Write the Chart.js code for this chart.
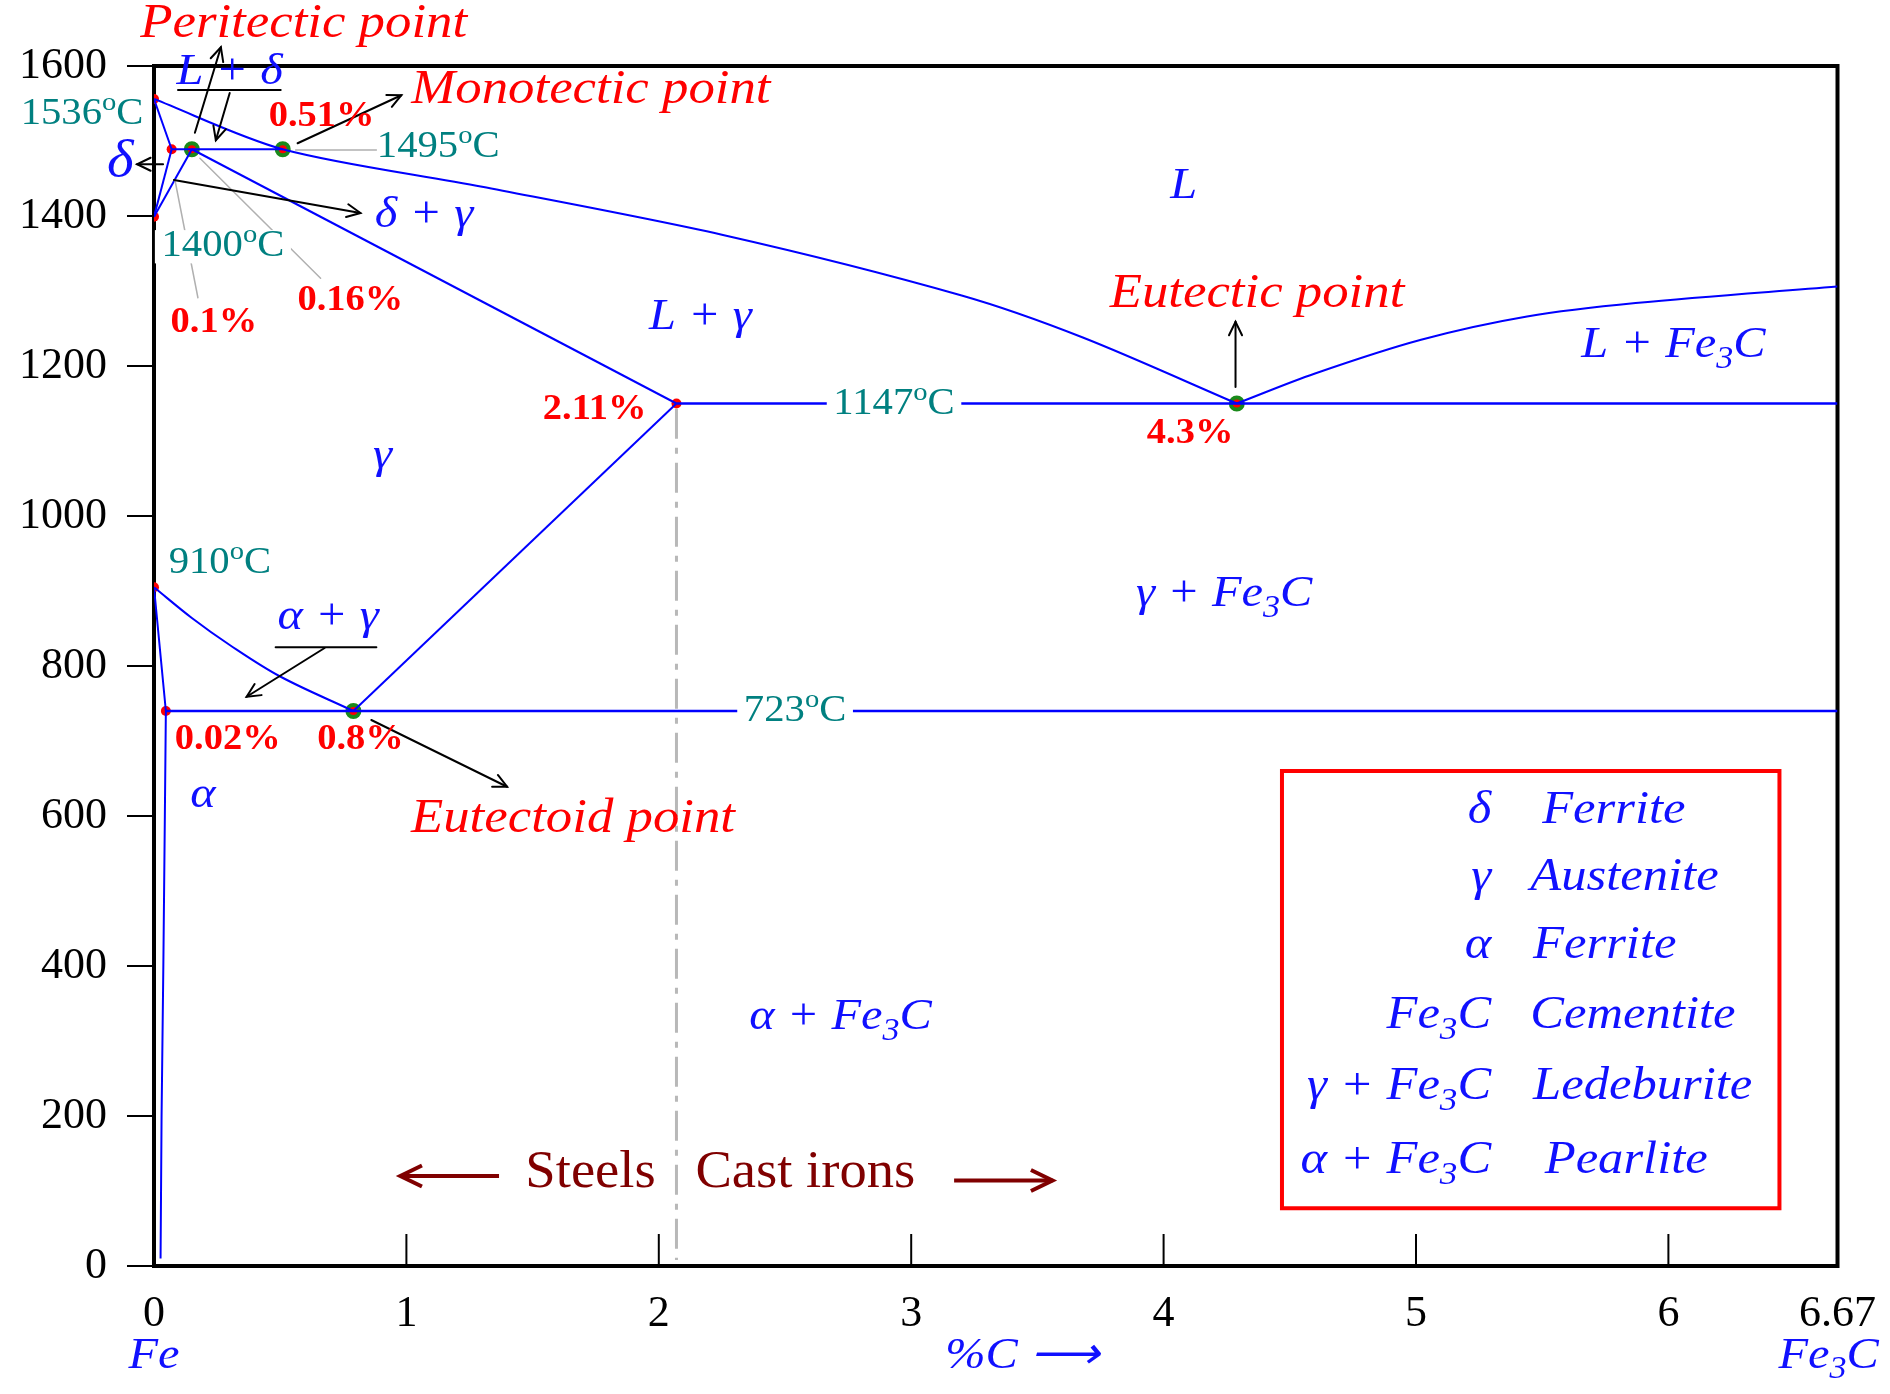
<!DOCTYPE html>
<html>
<head>
<meta charset="UTF-8">
<title>Iron-carbon phase diagram</title>
<script src="https://cdn.jsdelivr.net/npm/chart.js@4.4.0/dist/chart.umd.min.js"></script>
<style>
  body { margin: 0; background: #fff; }
  canvas { display: block; }
</style>
</head>
<body>
<canvas id="phaseChart" width="1890" height="1394"></canvas>
<script>
// x = carbon content in %C, y = temperature in degrees C
const xTicks = [0, 1, 2, 3, 4, 5, 6, 6.67];

const liquidusX = [0, 0.51, 1.3, 2.25, 3.2, 3.68, 4.29];
const liquidusT = [1556, 1489, 1439, 1375, 1294, 1238, 1150];
const cementiteLiqX = [4.29, 4.6, 5.02, 5.44, 5.87, 6.67];
const cementiteLiqT = [1150, 1190, 1235, 1266, 1284, 1306];
const deltaSolidusX = [0, 0.07];
const deltaSolidusT = [1556, 1489];
const deltaSolvusX = [0.07, 0];
const deltaSolvusT = [1489, 1399];
const gammaDeltaX = [0, 0.15];
const gammaDeltaT = [1399, 1489];
const peritecticX = [0.07, 0.51];
const peritecticT = [1489, 1489];
const gammaSolidusX = [0.15, 2.07];
const gammaSolidusT = [1489, 1150];
const eutecticX = [2.07, 6.67];
const eutecticT = [1150, 1150];
const acmX = [2.07, 0.79];
const acmT = [1150, 740];
const a3X = [0, 0.15, 0.3, 0.5, 0.79];
const a3T = [905, 864, 828, 786, 740];
const alphaSolvusX = [0, 0.047, 0.043, 0.037, 0.03, 0.026];
const alphaSolvusT = [905, 740, 600, 400, 200, 10];
const eutectoidX = [0.047, 6.67];
const eutectoidT = [740, 740];
const steelLimitX = [2.07, 2.07];
const steelLimitT = [1143, 8];

const smallDotX = [0, 0.07, 0, 0, 0.047, 2.07];
const smallDotT = [1556, 1489, 1399, 905, 740, 1150];
const keyPointX = [0.15, 0.51, 4.29, 0.79];
const keyPointT = [1489, 1489, 1150, 740];

// text annotations: [text, x, T]   (_x = subscript, ^x = superscript)
const pointNames = [
  ['Peritectic point', 0.593, 1656],
  ['Monotectic point', 1.731, 1568],
  ['Eutectic point', 4.37, 1295],
  ['Eutectoid point', 1.66, 595]
];
const percentLabels = [
  ['0.51%', 0.664, 1532], ['0.1%', 0.237, 1257], ['0.16%', 0.778, 1287],
  ['2.11%', 1.746, 1141], ['4.3%', 4.105, 1109], ['0.02%', 0.292, 701], ['0.8%', 0.818, 701]
];
const tempLabels = [
  ['1536^oC', -0.285, 1535, false], ['1495^oC', 1.126, 1492, false],
  ['1400^oC', 0.273, 1359, true], ['1147^oC', 2.932, 1149, true],
  ['910^oC', 0.261, 937, false], ['723^oC', 2.54, 740, true]
];
const phaseLabels = [
  ['L + δ', 0.30, 1592], ['δ + γ', 1.07, 1401], ['L', 4.08, 1439],
  ['L + γ', 2.165, 1265], ['L + Fe_3C', 6.02, 1227], ['γ', 0.905, 1080],
  ['α + γ', 0.69, 865], ['γ + Fe_3C', 4.24, 895], ['α', 0.194, 627], ['α + Fe_3C', 2.72, 331]
];
const legendSymbols = ['δ', 'γ', 'α', 'Fe_3C', 'γ + Fe_3C', 'α + Fe_3C'];
const legendNames = ['Ferrite', 'Austenite', 'Ferrite', 'Cementite', 'Ledeburite', 'Pearlite'];
const legendNameX = [5.5, 5.453, 5.464, 5.453, 5.464, 5.51];
const legendRowT = [607, 517, 427, 333, 239, 140];

const arrows = [
  [0.162, 1511, 0.265, 1625], [0.300, 1564, 0.245, 1501], [0.036, 1469, -0.067, 1469],
  [0.079, 1448, 0.818, 1404], [0.569, 1497, 0.98, 1561], [0.861, 728, 1.399, 639],
  [0.676, 824, 0.367, 759], [4.285, 1172, 4.285, 1259]
];
const underlines = [[0.095, 0.502, 1568], [0.482, 0.881, 825]];
const leaders = [[0.561, 1488, 0.881, 1488], [0.182, 1477, 0.66, 1317], [0.083, 1448, 0.174, 1291]];

const SERIF = "'Liberation Serif', 'Times New Roman', serif";
const BLUE = '#1010ff';

function pts(xs, ts) { return xs.map((x, i) => ({ x: x, y: ts[i] })); }

function line(xs, ts, opts) {
  opts = opts || {};
  return {
    data: pts(xs, ts), showLine: true, borderColor: opts.color || '#0000ff',
    borderWidth: opts.width || 2, pointRadius: 0, borderDash: opts.dash || [],
    tension: opts.tension || 0, fill: false
  };
}

function drawRich(ctx, str, x, y, opt) {
  const size = opt.size, style = opt.style || '';
  const parts = [];
  for (let i = 0; i < str.length; i++) {
    const c = str[i];
    if ((c === '_' || c === '^') && i + 1 < str.length) { parts.push({ t: str[i + 1], m: c }); i++; }
    else if (parts.length && !parts[parts.length - 1].m) parts[parts.length - 1].t += c;
    else parts.push({ t: c, m: '' });
  }
  const fontFor = m => style + ' ' + (m ? Math.round(size * 0.7) : size) + 'px ' + SERIF;
  let w = 0;
  parts.forEach(p => { ctx.font = fontFor(p.m); p.w = ctx.measureText(p.t).width; w += p.w; });
  let x0 = opt.align === 'left' ? 0 : opt.align === 'right' ? -w : -w / 2;
  ctx.save();
  ctx.translate(x, y);
  ctx.scale(opt.stretch || 1.1, 1);
  if (opt.bg) { ctx.fillStyle = opt.bg; ctx.fillRect(x0 - 6, -size * 0.45, w + 12, size * 0.9); }
  ctx.fillStyle = opt.color;
  ctx.textBaseline = 'middle';
  ctx.textAlign = 'left';
  parts.forEach(p => {
    ctx.font = fontFor(p.m);
    const dy = p.m === '_' ? size * 0.32 : p.m === '^' ? -size * 0.3 : 0;
    ctx.fillText(p.t, x0, dy);
    x0 += p.w;
  });
  ctx.restore();
}

function arrow(ctx, x1, y1, x2, y2, color, width, head) {
  ctx.strokeStyle = color;
  ctx.lineWidth = width;
  ctx.beginPath(); ctx.moveTo(x1, y1); ctx.lineTo(x2, y2); ctx.stroke();
  if (head) {
    const a = Math.atan2(y2 - y1, x2 - x1);
    ctx.beginPath();
    ctx.moveTo(x2 - head * Math.cos(a - 0.45), y2 - head * Math.sin(a - 0.45));
    ctx.lineTo(x2, y2);
    ctx.lineTo(x2 - head * Math.cos(a + 0.45), y2 - head * Math.sin(a + 0.45));
    ctx.stroke();
  }
}

const decorations = {
  id: 'decorations',
  beforeDatasetsDraw(chart) {
    const ctx = chart.ctx, a = chart.chartArea, xs = chart.scales.x;
    ctx.save();
    // frame + inward x ticks
    ctx.strokeStyle = '#000';
    ctx.lineWidth = 4;
    ctx.strokeRect(a.left, a.top, a.right - a.left, a.bottom - a.top);
    ctx.lineWidth = 2;
    xTicks.slice(1, 7).forEach(v => {
      const px = xs.getPixelForValue(v);
      ctx.beginPath(); ctx.moveTo(px, a.bottom); ctx.lineTo(px, a.bottom - 32); ctx.stroke();
    });
    ctx.restore();
  },
  afterDatasetsDraw(chart) {
    const ctx = chart.ctx, X = v => chart.scales.x.getPixelForValue(v), Y = v => chart.scales.y.getPixelForValue(v);
    ctx.save();
    ctx.lineCap = 'round';
    leaders.forEach(l => arrow(ctx, X(l[0]), Y(l[1]), X(l[2]), Y(l[3]), '#b0b0b0', 1.5, 0));
    tempLabels.forEach(t => drawRich(ctx, t[0], X(t[1]), Y(t[2]), { size: 37, color: '#008080', bg: t[3] ? '#fff' : null }));
    arrows.forEach(l => arrow(ctx, X(l[0]), Y(l[1]), X(l[2]), Y(l[3]), '#000', 2, 15));
    underlines.forEach(u => arrow(ctx, X(u[0]), Y(u[2]), X(u[1]), Y(u[2]), '#000', 2, 0));
    pointNames.forEach(t => drawRich(ctx, t[0], X(t[1]), Y(t[2]), { size: 48, style: 'italic', color: '#ff0000' }));
    percentLabels.forEach(t => drawRich(ctx, t[0], X(t[1]), Y(t[2]), { size: 35, style: 'bold', color: '#ff0000' }));
    phaseLabels.forEach(t => drawRich(ctx, t[0], X(t[1]), Y(t[2]), { size: 44, style: 'italic', color: BLUE }));
    drawRich(ctx, 'δ', X(-0.134), Y(1472), { size: 52, style: 'italic', color: BLUE });

    // legend box
    ctx.strokeStyle = '#ff0000';
    ctx.lineWidth = 4;
    ctx.strokeRect(X(4.469), Y(660), X(6.44) - X(4.469), Y(77) - Y(660));
    legendSymbols.forEach((s, i) => {
      drawRich(ctx, s, X(5.298), Y(legendRowT[i]), { size: 46, style: 'italic', color: BLUE, align: 'right' });
      drawRich(ctx, legendNames[i], X(legendNameX[i]), Y(legendRowT[i]), { size: 46, style: 'italic', color: BLUE, align: 'left' });
    });

    // steels / cast irons
    drawRich(ctx, 'Steels', X(1.988), Y(124), { size: 52, color: '#800000', align: 'right', stretch: 1.05 });
    drawRich(ctx, 'Cast irons', X(2.145), Y(124), { size: 52, color: '#800000', align: 'left', stretch: 1.05 });
    ctx.lineCap = 'butt';
    arrow(ctx, X(1.367), Y(120), X(0.976), Y(120), '#800000', 4, 24);
    arrow(ctx, X(3.17), Y(114), X(3.56), Y(114), '#800000', 4, 24);

    // axis captions
    drawRich(ctx, 'Fe', X(0), Y(-120), { size: 44, style: 'italic', color: BLUE });
    drawRich(ctx, '%C ⟶', X(3.44), Y(-120), { size: 44, style: 'italic', color: BLUE });
    drawRich(ctx, 'Fe_3C', X(6.635), Y(-120), { size: 44, style: 'italic', color: BLUE });
    ctx.restore();
  }
};

new Chart(document.getElementById('phaseChart'), {
  type: 'scatter',
  data: {
    datasets: [
      line(steelLimitX, steelLimitT, { color: '#b8b8b8', width: 3, dash: [30, 9, 6, 9] }),
      line(liquidusX, liquidusT, { tension: 0.3 }),
      line(cementiteLiqX, cementiteLiqT, { tension: 0.35 }),
      line(deltaSolidusX, deltaSolidusT),
      line(deltaSolvusX, deltaSolvusT),
      line(gammaDeltaX, gammaDeltaT),
      line(peritecticX, peritecticT),
      line(gammaSolidusX, gammaSolidusT),
      line(eutecticX, eutecticT, { width: 2.5 }),
      line(acmX, acmT),
      line(a3X, a3T, { tension: 0.35 }),
      line(alphaSolvusX, alphaSolvusT),
      line(eutectoidX, eutectoidT, { width: 2.5 }),
      {
        data: pts(smallDotX, smallDotT), pointRadius: 5, pointBackgroundColor: '#ff0000',
        pointBorderWidth: 0, showLine: false
      },
      {
        data: pts(keyPointX, keyPointT), pointRadius: 6, pointBackgroundColor: '#ff0000',
        pointBorderColor: '#1a8a1a', pointBorderWidth: 4, showLine: false
      }
    ]
  },
  options: {
    responsive: false,
    animation: false,
    layout: { padding: { top: 66, right: 48, left: 0, bottom: 0 } },
    plugins: { legend: { display: false }, tooltip: { enabled: false } },
    scales: {
      x: {
        type: 'linear', min: 0, max: 6.67,
        afterBuildTicks: s => { s.ticks = xTicks.map(v => ({ value: v })); },
        afterFit: s => { s.height = 128; },
        grid: { display: false },
        border: { color: '#000', width: 4 },
        ticks: {
          color: '#000', font: { family: SERIF, size: 44 }, padding: 14,
          maxRotation: 0, autoSkip: false, callback: v => String(v)
        }
      },
      y: {
        min: 0, max: 1600,
        afterFit: s => { s.width = 154; },
        grid: { drawOnChartArea: false, drawTicks: true, tickLength: 27, color: '#000', lineWidth: 2 },
        border: { color: '#000', width: 4 },
        ticks: {
          stepSize: 200, color: '#000', font: { family: SERIF, size: 44 }, padding: 20,
          callback: v => String(v)
        }
      }
    }
  },
  plugins: [decorations]
});
</script>
</body>
</html>
